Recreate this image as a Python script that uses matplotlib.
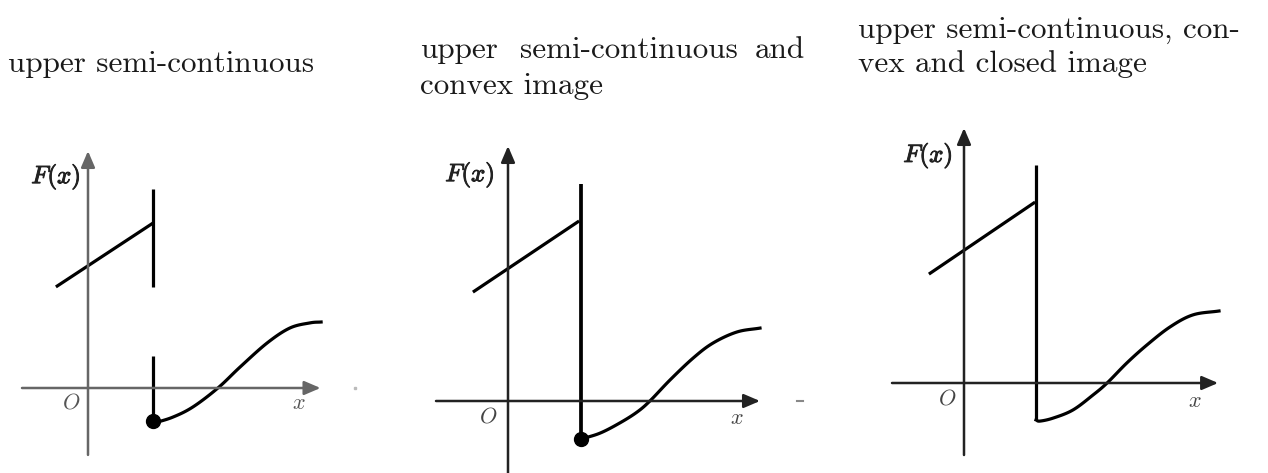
import matplotlib
matplotlib.use("Agg")
import matplotlib.pyplot as plt
import matplotlib.patheffects as pe
import numpy as np

plt.rcParams['mathtext.fontset'] = 'cm'

W, H = 1268, 473
S = 30.0  # pixels per unit

# titles of the three panels (lines)
titulo1 = ["upper semi-continuous"]
titulo2 = ["upper semi-continuous and", "convex image"]
titulo3 = ["upper semi-continuous, con-", "vex and closed image"]

# panel 1: upper semi-continuous
p1_eixo_x = [-2.2, 7.75]
p1_eixo_y = [-2.23, 7.9]
p1_reta_x = [-1.07, 2.17]
p1_reta_y = [3.37, 5.5]
p1_salto_sup = [3.37, 6.63]
p1_salto_inf = [-1.1, 1.07]
p1_curva_x = [2.2, 2.83, 3.5, 4.33, 5.07, 5.97, 6.73, 7.4, 7.77]
p1_curva_y = [-1.17, -0.97, -0.63, 0.0, 0.7, 1.5, 2.0, 2.17, 2.2]

# panel 2: upper semi-continuous and convex image
p2_eixo_x = [-2.4, 8.4]
p2_eixo_y = [-2.4, 8.5]
p2_reta_x = [-1.17, 2.37]
p2_reta_y = [3.63, 6.0]
p2_salto = [-1.27, 7.23]
p2_curva_x = [2.43, 3.07, 3.73, 4.3, 4.73, 5.4, 6.17, 6.83, 7.63, 8.4]
p2_curva_y = [-1.27, -1.07, -0.73, -0.37, 0.0, 0.7, 1.43, 1.93, 2.3, 2.43]

# panel 3: upper semi-continuous, convex and closed image
p3_eixo_x = [-2.4, 8.47]
p3_eixo_y = [-2.4, 8.5]
p3_reta_x = [-1.17, 2.37]
p3_reta_y = [3.63, 6.03]
p3_salto = [-1.23, 7.27]
p3_curva_x = [2.4, 2.53, 2.97, 3.63, 4.3, 4.77, 5.43, 6.1, 6.87, 7.63, 8.5]
p3_curva_y = [-1.23, -1.27, -1.17, -0.9, -0.4, 0.0, 0.67, 1.27, 1.87, 2.27, 2.4]

fig = plt.figure(figsize=(W / 100, H / 100), dpi=100)


def criar_eixo(ox, oy, xlim=(-3, 10), ylim=(-3, 9.5)):
    # axes where data (0,0) lands on pixel (ox, oy), y from the top
    left = ox + xlim[0] * S
    right = ox + xlim[1] * S
    top = oy - ylim[1] * S
    bottom = oy - ylim[0] * S
    ax = fig.add_axes([left / W, 1 - bottom / H, (right - left) / W, (bottom - top) / H])
    ax.set_xlim(*xlim)
    ax.set_ylim(*ylim)
    ax.axis('off')
    return ax


def suave(xs, ys, n=12):
    # Catmull-Rom so the line through the read points is drawn smooth
    p = np.column_stack([xs, ys]).astype(float)
    p = np.vstack([2 * p[0] - p[1], p, 2 * p[-1] - p[-2]])
    t = np.linspace(0, 1, n, endpoint=False)[:, None]
    out = []
    for i in range(1, len(p) - 2):
        p0, p1, p2, p3 = p[i - 1], p[i], p[i + 1], p[i + 2]
        out.append(0.5 * ((2 * p1) + (-p0 + p2) * t + (2 * p0 - 5 * p1 + 4 * p2 - p3) * t ** 2
                          + (-p0 + 3 * p1 - 3 * p2 + p3) * t ** 3))
    out.append(p[-2][None, :])
    out = np.vstack(out)
    return out[:, 0], out[:, 1]


def desenhar_eixos(ax, ex, ey, cor):
    seta = dict(arrowstyle='-|>,head_length=0.7,head_width=0.3', lw=1.8, color=cor,
                shrinkA=0, shrinkB=0, mutation_scale=14)
    ax.annotate('', xy=(ex[1], 0), xytext=(ex[0], 0), arrowprops=seta, annotation_clip=False)
    ax.annotate('', xy=(0, ey[1]), xytext=(0, ey[0]), arrowprops=seta, annotation_clip=False)


def rotulos(ax, pos_F, pos_O, pos_x, cor):
    grosso = [pe.withStroke(linewidth=0.7, foreground='#222222')]
    ax.text(pos_F[0], pos_F[1], r'$F(x)$', fontsize=18, ha='center', va='center',
            color='#222222', path_effects=grosso)
    ax.text(pos_O[0], pos_O[1], r'$O$', fontsize=16, ha='center', va='center', color=cor)
    ax.text(pos_x[0], pos_x[1], r'$x$', fontsize=16, ha='center', va='center', color=cor)


lw = 2.3

# painel 1
ax1 = criar_eixo(88, 388)
desenhar_eixos(ax1, p1_eixo_x, p1_eixo_y, '#666666')
ax1.plot(p1_reta_x, p1_reta_y, color='black', lw=lw, solid_capstyle='butt')
ax1.plot([p1_reta_x[1]] * 2, p1_salto_sup, color='black', lw=lw, solid_capstyle='butt')
ax1.plot([p1_reta_x[1]] * 2, p1_salto_inf, color='black', lw=lw, solid_capstyle='butt')
ax1.plot(*suave(p1_curva_x, p1_curva_y), color='black', lw=lw, solid_joinstyle='round')
ax1.plot(p1_reta_x[1], p1_salto_inf[0], 'o', color='black', ms=10)
ax1.plot(8.9, 0, 's', color='#bbbbbb', ms=2)
rotulos(ax1, (-1.07, 7.03), (-0.57, -0.47), (7.03, -0.5), '#555555')

# painel 2
ax2 = criar_eixo(508, 401)
desenhar_eixos(ax2, p2_eixo_x, p2_eixo_y, '#222222')
ax2.plot(p2_reta_x, p2_reta_y, color='black', lw=lw, solid_capstyle='butt')
ax2.plot([p2_curva_x[0]] * 2, p2_salto, color='black', lw=lw + 0.4, solid_capstyle='butt')
ax2.plot(*suave(p2_curva_x, p2_curva_y), color='black', lw=lw, solid_joinstyle='round')
ax2.plot(p2_curva_x[0], p2_curva_y[0], 'o', color='black', ms=10)
ax2.plot([9.63, 9.83], [0, 0], color='#888888', lw=1.5)
rotulos(ax2, (-1.27, 7.53), (-0.67, -0.53), (7.63, -0.57), '#444444')

# painel 3
ax3 = criar_eixo(964, 383)
desenhar_eixos(ax3, p3_eixo_x, p3_eixo_y, '#222222')
ax3.plot(p3_reta_x, p3_reta_y, color='black', lw=lw, solid_capstyle='butt')
ax3.plot([p3_curva_x[0]] * 2, p3_salto, color='black', lw=lw, solid_capstyle='butt')
ax3.plot(*suave(p3_curva_x, p3_curva_y), color='black', lw=lw, solid_joinstyle='round')
rotulos(ax3, (-1.2, 7.57), (-0.57, -0.5), (7.7, -0.6), '#444444')

# titulos
fonte = dict(family='cmr10', fontsize=22.4, color='#1a1a1a', va='baseline')


def texto(x, y, s, **kw):
    fig.text(x / W, 1 - y / H, s, **fonte, **kw)


texto(8, 72, titulo1[0])
# linha justificada: palavras separadas
palavras = titulo2[0].split(' ')
texto(420, 58, palavras[0])
texto(520, 58, palavras[1])
texto(805, 58, palavras[2], ha='right')
texto(420, 94, titulo2[1])
texto(858, 38, titulo3[0])
texto(858, 72, titulo3[1])

fig.savefig('out.png', dpi=100)
